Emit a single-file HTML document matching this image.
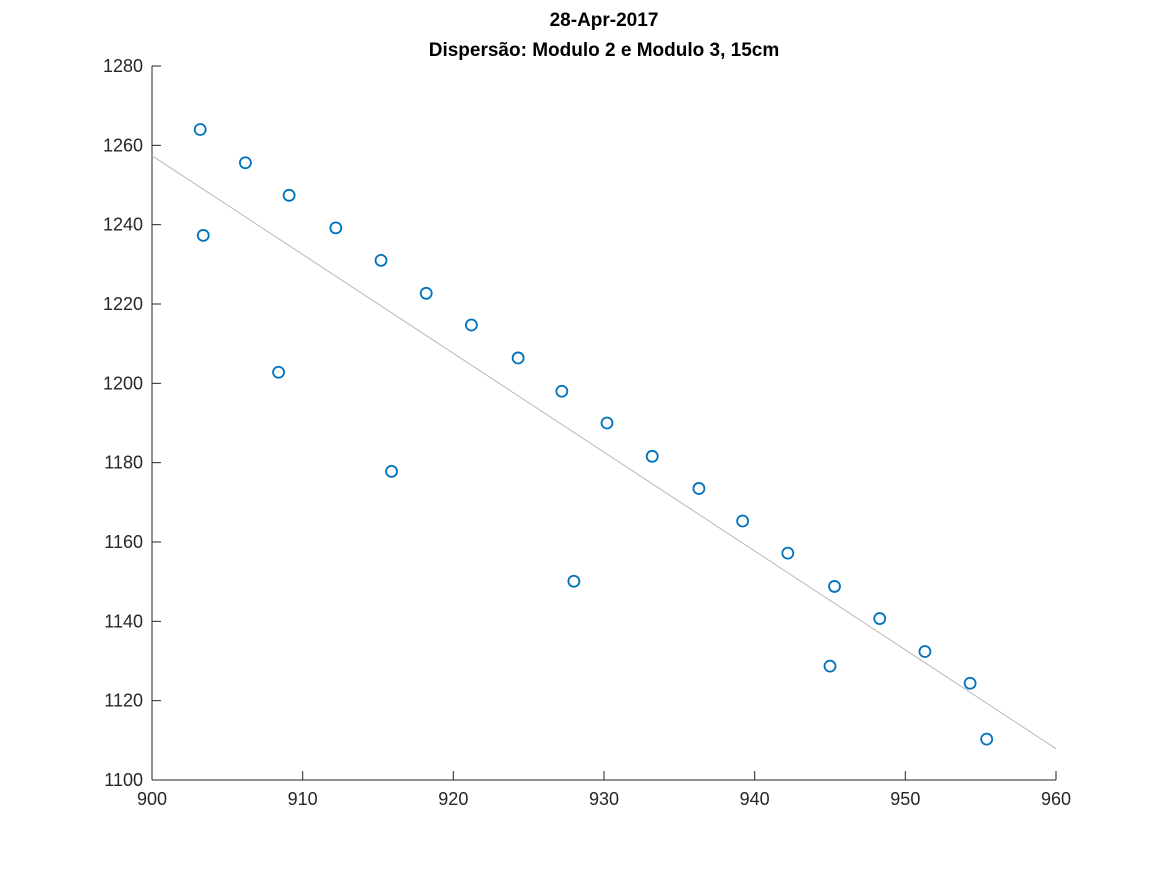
<!DOCTYPE html>
<html><head><meta charset="utf-8"><style>
body{margin:0;background:#fff;}
svg{display:block;font-family:"Liberation Sans",sans-serif;}
</style></head><body>
<svg id="chart" width="1167" height="875">
<text x="604" y="26" text-anchor="middle" font-size="19" font-weight="bold" fill="#000">28-Apr-2017</text>
<text x="604" y="56" text-anchor="middle" font-size="19" font-weight="bold" fill="#000">Dispersão: Modulo 2 e Modulo 3, 15cm</text>
<g id="axes"></g>
<g id="marks"></g>
</svg>
<script>
const xVals=[903.2,906.2,909.1,912.2,915.2,918.2,921.2,924.3,927.2,930.2,933.2,936.3,939.2,942.2,945.3,948.3,951.3,954.3,955.4,903.4,908.4,915.9,928.0,945.0];
const yVals=[1264,1255.6,1247.4,1239.2,1231,1222.7,1214.7,1206.4,1198,1190,1181.6,1173.5,1165.3,1157.2,1148.8,1140.7,1132.4,1124.4,1110.3,1237.3,1202.8,1177.8,1150.1,1128.7];
const fitX=[900,960];
const fitY=[1257.4,1107.9];
const xTicks=[900,910,920,930,940,950,960];
const yTicks=[1100,1120,1140,1160,1180,1200,1220,1240,1260,1280];
const X0=152,X1=1056,Y0=780,Y1=66;
const sx=v=>X0+(v-900)/60*(X1-X0);
const sy=v=>Y0-(v-1100)/180*(Y0-Y1);
const NS="http://www.w3.org/2000/svg";
function mk(t,a,p){const e=document.createElementNS(NS,t);for(const k in a)e.setAttribute(k,a[k]);p.appendChild(e);return e;}
const axes=document.getElementById('axes'),marks=document.getElementById('marks');
let e=mk('line',{x1:X0,y1:Y0,x2:X1,y2:Y0,stroke:'#262626','stroke-width':1},axes);


e=mk('line',{x1:X0,y1:Y0,x2:X0,y2:Y1,stroke:'#262626','stroke-width':1},axes);


xTicks.forEach(t=>{const x=sx(t);
 mk('line',{x1:x,y1:Y0,x2:x,y2:Y0-9,stroke:'#262626'},axes);
 const l=mk('text',{x:x,y:Y0+25,'text-anchor':'middle','font-size':18,fill:'#262626'},axes);l.textContent=t;
 
 });
yTicks.forEach(t=>{const y=sy(t);
 mk('line',{x1:X0,y1:y,x2:X0+9,y2:y,stroke:'#262626'},axes);
 const l=mk('text',{x:X0-9,y:y+6,'text-anchor':'end','font-size':18,fill:'#262626'},axes);l.textContent=t;
 
 });
e=mk('line',{x1:sx(fitX[0]),y1:sy(fitY[0]),x2:sx(fitX[1]),y2:sy(fitY[1]),stroke:'#b8b8b8','stroke-width':1},marks);


xVals.forEach((v,i)=>{const c=mk('circle',{cx:sx(v),cy:sy(yVals[i]),r:5.5,fill:'none',stroke:'#0072BD','stroke-width':1.8},marks);
 
 });
</script>
</body></html>
